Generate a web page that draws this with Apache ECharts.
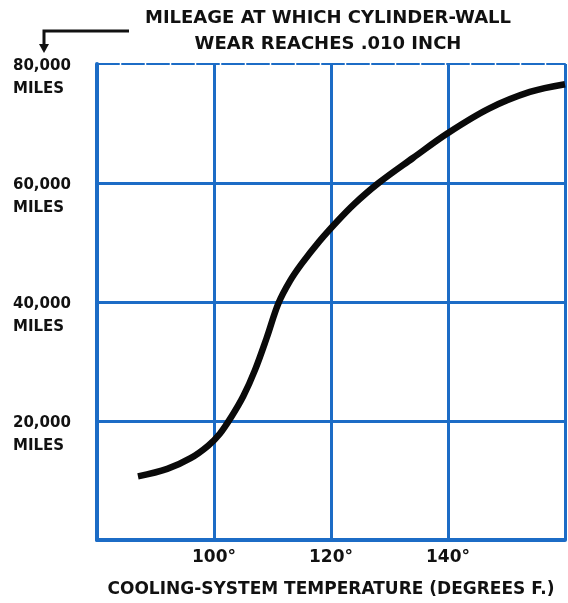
<!DOCTYPE html>
<html>
<head>
<meta charset="utf-8">
<script src="https://cdn.jsdelivr.net/npm/echarts@6/dist/echarts.min.js"></script>
<style>
  html, body { margin: 0; padding: 0; background: #ffffff; }
  #chart { width: 568px; height: 603px; }
</style>
</head>
<body>
<div id="chart"></div>
<script>
// Cooling-system temperature (°F) and the mileage at which cylinder-wall wear reaches .010 inch
const temperatures = [87, 92, 96, 99, 101, 103, 105, 107, 109, 111, 113, 115, 118, 121, 124, 128, 134, 140, 147, 154, 160];
const mileage = [10700, 11950, 13750, 15850, 17850, 20750, 24150, 28550, 33950, 39750, 43550, 46450, 50200, 53500, 56500, 59900, 64200, 68400, 72500, 75300, 76600];

// Tick labels
const xTickLabels = { 100: '100°', 120: '120°', 140: '140°' };
const yTickLabels = { 20000: '20,000', 40000: '40,000', 60000: '60,000', 80000: '80,000' };
const yUnit = 'MILES';

const titleText = 'MILEAGE AT WHICH CYLINDER-WALL\nWEAR REACHES .010 INCH';
const xAxisTitle = 'COOLING-SYSTEM TEMPERATURE (DEGREES F.)';

const BLUE = '#1c6cc6';
const FONT = '"DejaVu Sans", sans-serif';

const chart = echarts.init(document.getElementById('chart'), null, { renderer: 'canvas' });

chart.setOption({
  backgroundColor: '#ffffff',
  animation: false,
  title: {
    text: titleText,
    left: 323,
    top: 0,
    textAlign: 'center',
    textStyle: {
      fontFamily: FONT,
      fontWeight: 'bold',
      fontSize: 18,
      lineHeight: 26,
      color: '#111111'
    }
  },
  grid: { left: 97, right: 1, top: 64, bottom: 61, containLabel: false },
  xAxis: [{
    type: 'value',
    min: 80,
    max: 160,
    interval: 20,
    axisLine: { show: true, lineStyle: { color: BLUE, width: 4 } },
    axisTick: { show: false },
    splitLine: { show: true, showMinLine: false, lineStyle: { color: BLUE, width: 3 } },
    axisLabel: {
      margin: 9,
      fontFamily: FONT,
      fontWeight: 'bold',
      fontSize: 17,
      color: '#111111',
      formatter: v => xTickLabels[v] || ''
    },
    name: xAxisTitle,
    nameLocation: 'middle',
    nameGap: 41,
    nameTextStyle: {
      fontFamily: FONT,
      fontWeight: 'bold',
      fontSize: 17,
      color: '#111111'
    }
  }, {
    // Top border of the plotting frame
    type: 'value',
    position: 'top',
    min: 80,
    max: 160,
    axisLine: { show: true, lineStyle: { color: BLUE, width: 2, type: [22, 3] } },
    axisTick: { show: false },
    axisLabel: { show: false },
    splitLine: { show: false }
  }],
  yAxis: {
    type: 'value',
    min: 0,
    max: 80000,
    interval: 20000,
    axisLine: { show: true, lineStyle: { color: BLUE, width: 4 } },
    axisTick: { show: false },
    splitLine: { show: true, showMinLine: false, showMaxLine: false, lineStyle: { color: BLUE, width: 3 } },
    axisLabel: {
      margin: 84,
      align: 'left',
      verticalAlign: 'top',
      formatter: v => yTickLabels[v] ? '{n|' + yTickLabels[v] + '}\n{m|' + yUnit + '}' : '',
      rich: {
        n: { fontFamily: FONT, fontWeight: 'bold', fontSize: 15, lineHeight: 4, color: '#111111' },
        m: { fontFamily: FONT, fontWeight: 'bold', fontSize: 15, lineHeight: 42, color: '#111111' }
      }
    }
  },
  series: [{
    type: 'line',
    xAxisIndex: 0,
    data: temperatures.map((t, i) => [t, mileage[i]]),
    smooth: 0.35,
    showSymbol: false,
    lineStyle: { color: '#0a0a0a', width: 6.5 },
    z: 5
  }],
  graphic: [{
    // Pointer from the heading down to the vertical axis
    type: 'polyline',
    shape: { points: [[129, 31], [44, 31], [44, 46]] },
    style: { stroke: '#111111', lineWidth: 3, fill: null }
  }, {
    type: 'polygon',
    shape: { points: [[39, 44], [49, 44], [44, 53]] },
    style: { fill: '#111111' }
  }]
});
</script>
</body>
</html>
